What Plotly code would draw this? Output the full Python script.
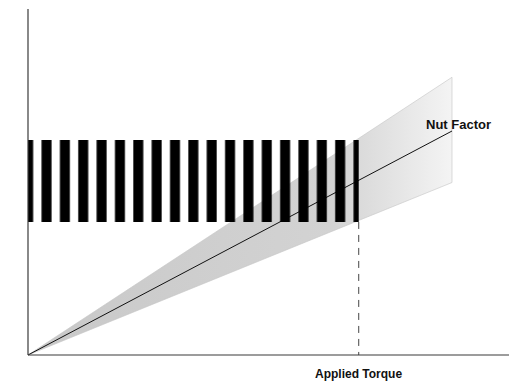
import plotly.graph_objects as go

# ---- data ----
torque = [0, 100]                 # applied torque (arbitrary units)
tension_nominal = [0, 100]        # nut-factor line
cone_upper = [0, 124]             # upper scatter limit
cone_lower = [0, 77]              # lower scatter limit
applied_torque = 78
tension_band = [59.4, 96.0]       # tension scatter at applied torque
axis_max_torque = 115
axis_max_tension = 154.5

x_title = "Applied Torque"
y_title = "Tension"
line_label = "Nut Factor"

FONT = "Liberation Sans"

# page body has an 8px margin; figure is sized to fit the window
W, H = 509, 375
L = 11                      # left margin (sets stripe phase)
PX_X = 4.24                 # px per torque unit
PX_Y = 2.24                 # px per tension unit
X0_PX = 20                  # figure px of torque = 0
Y0_PX = 347                 # figure px of tension = 0

fig = go.Figure()

# scatter cone
fig.add_trace(go.Scatter(
    x=[torque[0], torque[1], torque[1], torque[0]],
    y=[cone_lower[0], cone_upper[1], cone_lower[1], cone_lower[0]],
    mode="lines", fill="toself",
    line=dict(color="#c4c4c4", width=0.6),
    fillgradient=dict(type="horizontal",
                      colorscale=[[0, "#c8c8c8"], [0.72, "#d3d3d3"], [1, "#f4f4f4"]]),
    hoverinfo="skip",
))

# nut factor line
fig.add_trace(go.Scatter(
    x=torque, y=tension_nominal, mode="lines",
    line=dict(color="#111111", width=1), hoverinfo="skip",
))

# striped tension band
fig.add_trace(go.Scatter(
    x=[0, applied_torque, applied_torque, 0, 0],
    y=[tension_band[0], tension_band[0], tension_band[1], tension_band[1], tension_band[0]],
    mode="lines", fill="toself", line=dict(width=0),
    fillcolor="rgba(0,0,0,0)",
    fillpattern=dict(shape="|", size=18.353, solidity=0.545,
                     fgcolor="black", bgcolor="rgba(0,0,0,0)", fgopacity=1,
                     fillmode="replace"),
    hoverinfo="skip",
))

# dashed drop line at applied torque
fig.add_trace(go.Scatter(
    x=[applied_torque, applied_torque], y=[tension_band[0], 0], mode="lines",
    line=dict(color="#444444", width=1, dash="7px,6px"), hoverinfo="skip",
))

# axes lines
fig.add_shape(type="line", x0=0, y0=0, x1=axis_max_torque + 10, y1=0,
              line=dict(color="#3a3a3a", width=1.2), layer="above")
fig.add_shape(type="line", x0=0, y0=0, x1=0, y1=axis_max_tension,
              line=dict(color="#3a3a3a", width=1.2), layer="above")

fig.add_annotation(x=101.6, y=103.1, text=line_label, showarrow=False,
                   xanchor="center", yanchor="middle",
                   font=dict(family=FONT, size=13, color="#111111", weight="bold"))
fig.add_annotation(x=applied_torque, y=-8.5, text=x_title, showarrow=False,
                   xanchor="center", yanchor="middle",
                   font=dict(family=FONT, size=12, color="#111111", weight="bold"))
fig.add_annotation(x=-2.6, y=76.8, text=y_title, showarrow=False, textangle=-90,
                   xanchor="center", yanchor="middle",
                   font=dict(family=FONT, size=11.5, color="#111111", weight="bold"))

plot_w = W - L
fig.update_layout(
    width=W, height=H,
    margin=dict(l=L, r=0, t=0, b=0, pad=0),
    paper_bgcolor="white", plot_bgcolor="white",
    showlegend=False,
    xaxis=dict(visible=False,
               range=[-(X0_PX - L) / PX_X, (plot_w - (X0_PX - L)) / PX_X],
               fixedrange=True),
    yaxis=dict(visible=False,
               range=[-(H - Y0_PX) / PX_Y, Y0_PX / PX_Y],
               fixedrange=True),
)

fig.write_html("out.html")
